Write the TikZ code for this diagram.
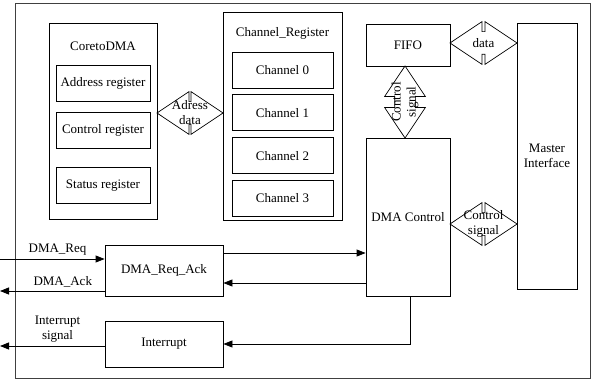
\documentclass[tikz,border=0pt]{standalone}
\usepackage{fontspec}
\setmainfont{Liberation Serif}
\usetikzlibrary{arrows.meta,positioning,shapes.arrows,calc}

\begin{document}
\begin{tikzpicture}[x=1pt,y=-1pt,
  font=\fontsize{13}{15}\selectfont,
  box/.style={draw,line width=0.8pt,align=center,inner sep=0pt},
  reg/.style={box,minimum width=94pt,minimum height=36pt},
  chan/.style={box,minimum width=101pt,minimum height=36pt},
  dbl/.style={draw,line width=0.7pt,double arrow,double arrow tip angle=67.5,
              double arrow head extend=10pt,double arrow head indent=0pt,
              minimum height=#1,inner xsep=0pt,inner ysep=11pt},
  sig/.style={-{Triangle[length=9pt,width=7pt]},line width=0.8pt}
]
\useasboundingbox (0,0) rectangle (594,382);
\draw[black!75,line width=1pt] (15,4) rectangle (590,378);

% core side registers
\node[box,minimum width=108pt,minimum height=196pt] (core) at (103,121) {};
\node (coretitle) at (core.north |- 0,46) {CoretoDMA};
\node[reg] (addr) at (103,83) {Address register};
\node[reg,below=11pt of addr] (ctrl) {Control register};
\node[reg,below=18pt of ctrl] (stat) {Status register};

% channel registers
\node[box,minimum width=119pt,minimum height=208pt] (chreg) at (282.5,116) {};
\node (chtitle) at (chreg.north |- 0,33) {Channel\_Register};
\node[chan] (ch0) at (282.5,70) {Channel 0};
\foreach \i [count=\j from 0] in {1,2,3}
  \node[chan,below=6pt of ch\j] (ch\i) {Channel \i};

\node[box,minimum width=84pt,minimum height=42pt] (fifo) at (408,45) {FIFO};
\node[box,minimum width=84pt,minimum height=158pt] (dmactl) at (408,217) {DMA Control};
\node[box,minimum width=60pt,minimum height=266pt] (master) at (547,156) {Master\\Interface};
\node[box,minimum width=118pt,minimum height=51pt] (reqack) at (164,270.5) {DMA\_Req\_Ack};
\node[box,minimum width=118pt,minimum height=46pt] (intr) at (164,344) {Interrupt};

% bus arrows
\node[dbl=66pt,label={[align=center]center:Adress\\data}] (addrdata) at (190,113) {};
\node[dbl=67pt,label=center:data] (fifodata) at (483.5,43) {};
\node[dbl=72pt,inner ysep=10pt,rotate=90,
      label={[align=center,rotate=90]center:Control\\signal}] (ctlsig) at (405,102) {};
\node[dbl=67pt,label={[align=center]center:Control\\signal}] (ctlsig2) at (483.5,224) {};

% handshake lines
\coordinate (reqin) at (0,259);
\coordinate (ackout) at (0,291);
\coordinate (irqout) at (0,346);
\draw[sig] (reqin) -- node[above,pos=.55] {DMA\_Req} (reqin -| reqack.west);
\draw[sig] (reqack.west |- ackout) -- node[above,pos=.4] {DMA\_Ack} (ackout);
\draw[sig] (intr.west |- irqout) -- node[above,pos=.45,align=center] {Interrupt\\signal} (irqout);
\draw[sig] (reqack.east |- 0,253) -- (dmactl.west |- 0,253);
\draw[sig] (dmactl.west |- 0,283) -- (reqack.east |- 0,283);
\draw[sig] ([xshift=2pt]dmactl.south) |- (intr.east);
\end{tikzpicture}
\end{document}
